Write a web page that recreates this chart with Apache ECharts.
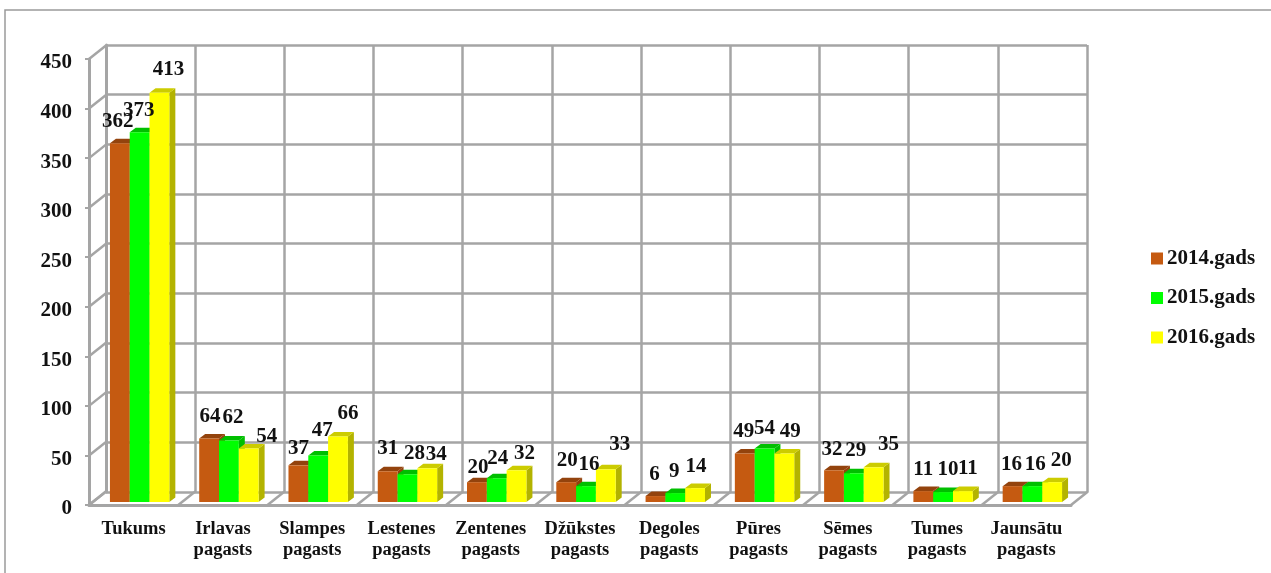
<!DOCTYPE html>
<html>
<head>
<meta charset="utf-8">
<style>
    html, body { margin: 0; padding: 0; background: #fff; }
    #main { width: 1271px; height: 573px; }
</style>
<script src="https://cdn.jsdelivr.net/npm/echarts@6/dist/echarts.min.js"></script>
</head>
<body>
<div id="main"></div>
<script>
const categories = ["Tukums", "Irlavas\npagasts", "Slampes\npagasts", "Lestenes\npagasts", "Zentenes\npagasts", "Džūkstes\npagasts", "Degoles\npagasts", "Pūres\npagasts", "Sēmes\npagasts", "Tumes\npagasts", "Jaunsātu\npagasts"];
const values2014 = [362, 64, 37, 31, 20, 20, 6, 49, 32, 11, 16];
const values2015 = [373, 62, 47, 28, 24, 16, 9, 54, 29, 10, 16];
const values2016 = [413, 54, 66, 34, 32, 33, 14, 49, 35, 11, 20];
const yTicks = [0, 50, 100, 150, 200, 250, 300, 350, 400, 450];

// the labels were moved by hand in the original, one nudge per label
const nudge2014 = [[-2, -22], [1, -22], [0, -17], [0, -23], [1, -15], [1, -22], [-1, -21], [-1, -22], [-2, -21], [0, -22], [-1, -22]];
const nudge2015 = [[-1, -22], [4, -23], [4, -25], [7, -21], [1, -20], [3, -22], [-1, -22], [0, -20], [2, -23], [5, -23], [3, -22]];
const nudge2016 = [[9, -23], [18, -12], [10, -23], [9, -14], [8, -17], [14, -25], [1, -22], [6, -22], [15, -23], [5, -23], [9, -22]];

const GRAY = "#a5a5a5";
const FONT = "'Liberation Serif', 'Times New Roman', serif";
const WALL_DX = 17;   // back wall offset from the front plane
const WALL_DY = -13.5;

function barSeries(name, values, nudges, colors, slot) {
    return {
        name: name,
        type: "custom",
        xAxisIndex: 0,
        yAxisIndex: 0,
        itemStyle: { color: colors[0] },
        z: 5,
        data: values.map((v, i) => [i, v]),
        renderItem: function (params, api) {
            const i = api.value(0);
            const top = api.coord([i, api.value(1)]);
            const base = api.coord([i, 0]);
            const w = 19.8;
            const dx = 6, dy = -4.5;
            const x0 = top[0] + 6 + (slot - 1) * w - w / 2;
            const x1 = x0 + w;
            const yb = base[1] - 3;
            const yt = top[1] - 3;
            const nudge = nudges[i];
            return {
                type: "group",
                children: [
                    { type: "polygon", shape: { points: [[x1, yt], [x1 + dx, yt + dy], [x1 + dx, yb + dy], [x1, yb]] }, style: { fill: colors[2] } },
                    { type: "polygon", shape: { points: [[x0, yt], [x0 + dx, yt + dy], [x1 + dx, yt + dy], [x1, yt]] }, style: { fill: colors[1] } },
                    { type: "rect", shape: { x: x0, y: yt, width: w, height: yb - yt }, style: { fill: colors[0] } },
                    {
                        type: "text",
                        z2: 50,
                        style: {
                            text: String(api.value(1)),
                            x: (x0 + x1) / 2 + nudge[0],
                            y: yt + nudge[1],
                            align: "center",
                            verticalAlign: "middle",
                            font: "bold 21px " + FONT,
                            fill: "#111"
                        }
                    }
                ]
            };
        }
    };
}

var option = {
    animation: false,
    backgroundColor: "#fff",
    legend: {
        orient: "vertical",
        left: 1151,
        top: 248,
        padding: 0,
        itemWidth: 12,
        itemHeight: 12,
        itemGap: 18.5,
        icon: "rect",
        selectedMode: false,
        textStyle: { fontFamily: FONT, fontWeight: "bold", fontSize: 21, lineHeight: 20, color: "#111", padding: [0, 0, 0, -1] },
        data: ["2014.gads", "2015.gads", "2016.gads"]
    },
    grid: [
        { left: 89, top: 59, width: 982, height: 446 },
        { left: 89 + WALL_DX, top: 45, width: 981, height: 447 }
    ],
    xAxis: [{
        type: "category",
        gridIndex: 0,
        data: categories,
        axisLine: { lineStyle: { color: GRAY, width: 3 } },
        axisTick: { length: 7, lineStyle: { color: GRAY, width: 2 } },
        axisLabel: {
            interval: 0,
            margin: 14,
            lineHeight: 21,
            fontFamily: FONT,
            fontWeight: "bold",
            fontSize: 18.5,
            color: "#111",
            verticalAlign: "top"
        }
    }, {
        type: "category",
        gridIndex: 1,
        data: categories,
        axisLine: { show: false },
        axisTick: { show: false },
        axisLabel: { show: false },
        splitLine: { show: true, interval: 0, lineStyle: { color: GRAY, width: 2.5 } }
    }],
    yAxis: [{
        type: "value",
        gridIndex: 0,
        min: 0,
        max: 450,
        interval: 50,
        axisLine: { show: true, lineStyle: { color: GRAY, width: 3 } },
        axisTick: { show: true, length: 4, lineStyle: { color: GRAY, width: 2 } },
        // the numbers sit a little below their ticks
        axisLabel: { margin: 17, verticalAlign: "top", lineHeight: 8, fontFamily: FONT, fontWeight: "bold", fontSize: 21, color: "#111" },
        splitLine: { show: false }
    }, {
        type: "value",
        gridIndex: 1,
        min: 0,
        max: 450,
        interval: 50,
        axisLine: { show: true, lineStyle: { color: GRAY, width: 3 } },
        axisTick: { show: false },
        axisLabel: { show: false },
        splitLine: { show: true, lineStyle: { color: GRAY, width: 2.5 } }
    }],
    series: [
        // diagonals on the left wall, one per value tick
        {
            type: "custom",
            xAxisIndex: 0,
            yAxisIndex: 0,
            z: 1,
            silent: true,
            data: yTicks.map(v => [0, v]),
            renderItem: function (params, api) {
                const p = api.coord([0, api.value(1)]);
                const x = p[0] - api.size([1, 0])[0] / 2;
                return { type: "line", shape: { x1: x, y1: p[1], x2: x + WALL_DX, y2: p[1] + WALL_DY }, style: { stroke: GRAY, lineWidth: 2.5 } };
            }
        },
        // diagonals on the floor, one per category boundary
        {
            type: "custom",
            xAxisIndex: 0,
            yAxisIndex: 0,
            z: 1,
            silent: true,
            data: categories.map((c, i) => [i, 0]).concat([[categories.length - 1, 0]]),
            renderItem: function (params, api) {
                const p = api.coord([api.value(0), 0]);
                const band = api.size([1, 0])[0];
                const x = p[0] + (params.dataIndex === categories.length ? band / 2 : -band / 2);
                return { type: "line", shape: { x1: x, y1: p[1], x2: x + WALL_DX, y2: p[1] + WALL_DY }, style: { stroke: GRAY, lineWidth: 2.5 } };
            }
        },
        barSeries("2014.gads", values2014, nudge2014, ["#c55a11", "#93430d", "#93430d"], 0),
        barSeries("2015.gads", values2015, nudge2015, ["#00ff00", "#00bf00", "#00bf00"], 1),
        barSeries("2016.gads", values2016, nudge2016, ["#ffff00", "#cccc00", "#b3b300"], 2)
    ],
    graphic: [
        { type: "polyline", shape: { points: [[5, 573], [5, 10], [1271, 10]] }, style: { stroke: "#9a9a9a", fill: "none", lineWidth: 1.5 } }
    ]
};

let myChart = echarts.init(document.getElementById("main"));
myChart.setOption(option);
</script>
</body>
</html>
